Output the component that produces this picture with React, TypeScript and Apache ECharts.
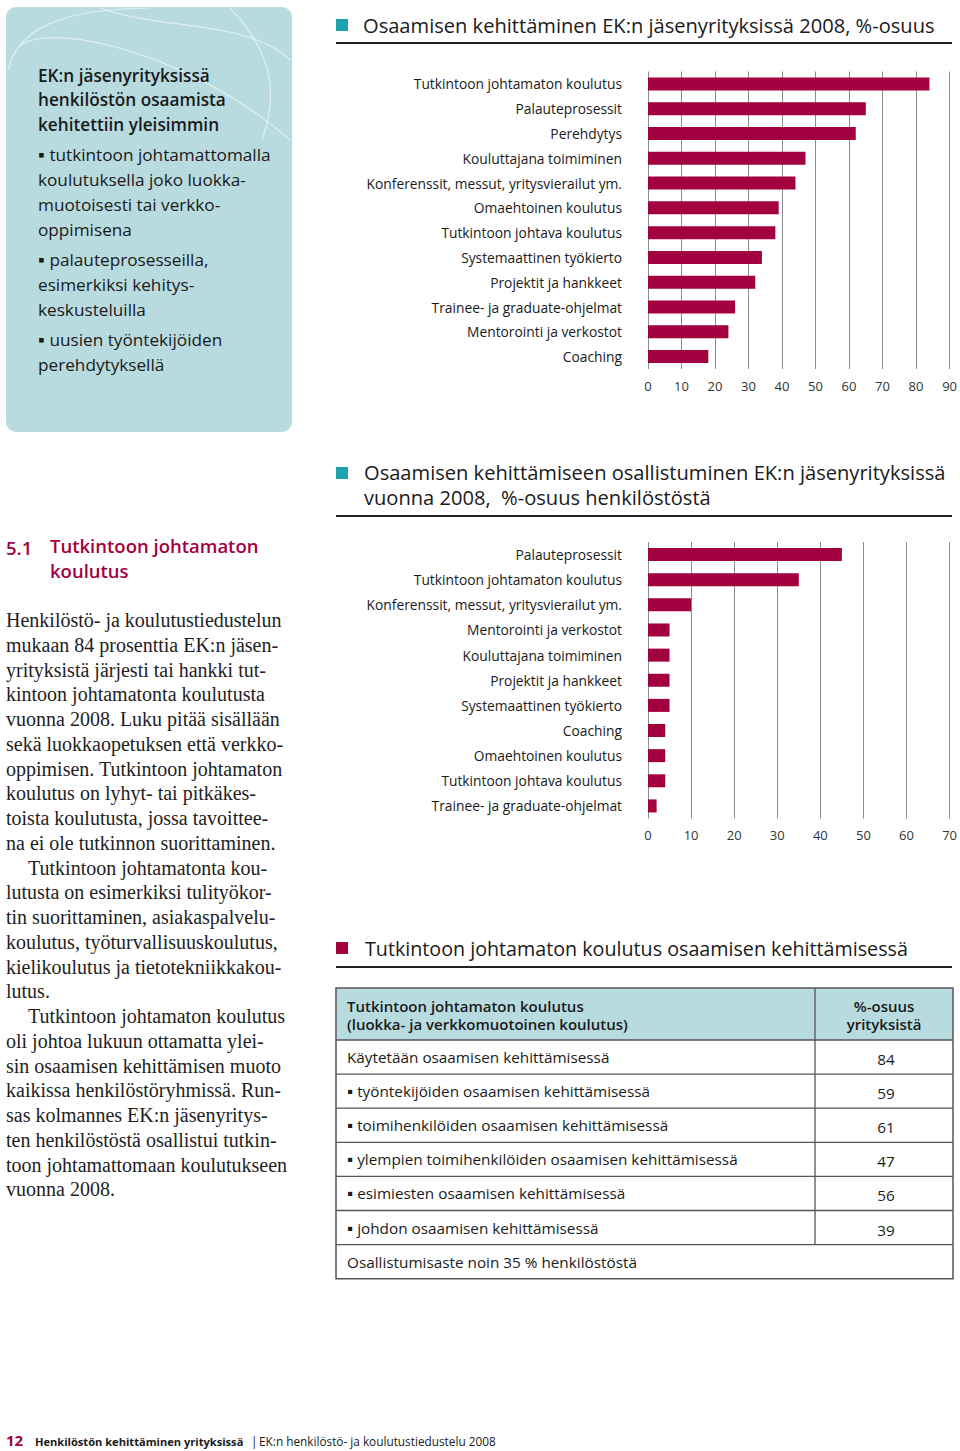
import React, { useEffect, useRef } from 'react';
import * as echarts from 'echarts';

const SANS = '"Open Sans", Lato, "Noto Sans", sans-serif';
const SERIF = '"Liberation Serif", "DejaVu Serif", serif';
const CRIMSON = '#a3003f';
const TEAL = '#1ea2ae';
const BOX_BG = '#b8dbe0';
const DARK = '#1a1a1a';

// Chart 1: Osaamisen kehittäminen EK:n jäsenyrityksissä 2008, %-osuus
const chart1Categories = [
  'Tutkintoon johtamaton koulutus',
  'Palauteprosessit',
  'Perehdytys',
  'Kouluttajana toimiminen',
  'Konferenssit, messut, yritysvierailut ym.',
  'Omaehtoinen koulutus',
  'Tutkintoon johtava koulutus',
  'Systemaattinen työkierto',
  'Projektit ja hankkeet',
  'Trainee- ja graduate-ohjelmat',
  'Mentorointi ja verkostot',
  'Coaching',
];
const chart1Values = [84, 65, 62, 47, 44, 39, 38, 34, 32, 26, 24, 18];
const chart1Max = 90;

// Chart 2: Osaamisen kehittämiseen osallistuminen, %-osuus henkilöstöstä
const chart2Categories = [
  'Palauteprosessit',
  'Tutkintoon johtamaton koulutus',
  'Konferenssit, messut, yritysvierailut ym.',
  'Mentorointi ja verkostot',
  'Kouluttajana toimiminen',
  'Projektit ja hankkeet',
  'Systemaattinen työkierto',
  'Coaching',
  'Omaehtoinen koulutus',
  'Tutkintoon johtava koulutus',
  'Trainee- ja graduate-ohjelmat',
];
const chart2Values = [45, 35, 10, 5, 5, 5, 5, 4, 4, 4, 2];
const chart2Max = 70;
const tickInterval = 10;

// Table
const tableHeaderLeft = ['Tutkintoon johtamaton koulutus', '(luokka- ja verkkomuotoinen koulutus)'];
const tableHeaderRight = ['%-osuus', 'yrityksistä'];
const tableLabels = [
  'Käytetään osaamisen kehittämisessä',
  '▪ työntekijöiden osaamisen kehittämisessä',
  '▪ toimihenkilöiden osaamisen kehittämisessä',
  '▪ ylempien toimihenkilöiden osaamisen kehittämisessä',
  '▪ esimiesten osaamisen kehittämisessä',
  '▪ johdon osaamisen kehittämisessä',
];
const tableValues = [84, 59, 61, 47, 56, 39];
const tableFooter = 'Osallistumisaste noin 35 % henkilöstöstä';

// Info box
const boxTitle = ['EK:n jäsenyrityksissä', 'henkilöstön osaamista', 'kehitettiin yleisimmin'];
const boxBullets = [
  ['▪ tutkintoon johtamattomalla', 'koulutuksella joko luokka-', 'muotoisesti tai verkko-', 'oppimisena'],
  ['▪ palauteprosesseilla,', 'esimerkiksi kehitys-', 'keskusteluilla'],
  ['▪ uusien työntekijöiden', 'perehdytyksellä'],
];

// Body text
const bodyLines: [string, boolean][] = [
  ['Henkilöstö- ja koulutustiedustelun', false],
  ['mukaan 84 prosenttia EK:n jäsen-', false],
  ['yrityksistä järjesti tai hankki tut-', false],
  ['kintoon johtamatonta koulutusta', false],
  ['vuonna 2008. Luku pitää sisällään', false],
  ['sekä luokkaopetuksen että verkko-', false],
  ['oppimisen. Tutkintoon johtamaton', false],
  ['koulutus on lyhyt- tai pitkäkes-', false],
  ['toista koulutusta, jossa tavoittee-', false],
  ['na ei ole tutkinnon suorittaminen.', false],
  ['Tutkintoon johtamatonta kou-', true],
  ['lutusta on esimerkiksi tulityökor-', false],
  ['tin suorittaminen, asiakaspalvelu-', false],
  ['koulutus, työturvallisuuskoulutus,', false],
  ['kielikoulutus ja tietotekniikkakou-', false],
  ['lutus.', false],
  ['Tutkintoon johtamaton koulutus', true],
  ['oli johtoa lukuun ottamatta ylei-', false],
  ['sin osaamisen kehittämisen muoto', false],
  ['kaikissa henkilöstöryhmissä. Run-', false],
  ['sas kolmannes EK:n jäsenyritys-', false],
  ['ten henkilöstöstä osallistui tutkin-', false],
  ['toon johtamattomaan koulutukseen', false],
  ['vuonna 2008.', false],
];

function txt(text: string, x: number, y: number, font: string, fill = DARK, align = 'left', extra: any = {}): any {
  return {
    type: 'text',
    silent: true,
    style: {
      text,
      x,
      y,
      font,
      fill,
      textAlign: align,
      align,
      textVerticalAlign: 'middle',
      verticalAlign: 'middle',
      ...extra,
    },
  };
}

function hline(x1: number, x2: number, y: number, w = 1, color = '#444'): any {
  return { type: 'line', silent: true, shape: { x1, y1: y, x2, y2: y }, style: { stroke: color, lineWidth: w } };
}
function vline(x: number, y1: number, y2: number, w = 1, color = '#444'): any {
  return { type: 'line', silent: true, shape: { x1: x, y1, x2: x, y2 }, style: { stroke: color, lineWidth: w } };
}

function buildGraphics(): any[] {
  const g: any[] = [];
  // Info box
  g.push({ type: 'rect', silent: true, shape: { x: 6, y: 7, width: 286, height: 425, r: 10 }, style: { fill: BOX_BG } });
  const curveStyle = { stroke: 'rgba(255,255,255,0.55)', lineWidth: 1.2, fill: 'none' };
  g.push({ type: 'bezierCurve', silent: true, shape: { x1: 8, y1: 70, cpx1: 20, cpy1: 20, cpx2: 80, cpy2: 9, x2: 150, y2: 8 }, style: curveStyle });
  g.push({ type: 'bezierCurve', silent: true, shape: { x1: 20, y1: 45, cpx1: 60, cpy1: 20, cpx2: 200, cpy2: 60, x2: 290, y2: 140 }, style: curveStyle });
  g.push({ type: 'bezierCurve', silent: true, shape: { x1: 230, y1: 8, cpx1: 270, cpy1: 50, cpx2: 280, cpy2: 90, x2: 262, y2: 140 }, style: curveStyle });
  g.push({ type: 'bezierCurve', silent: true, shape: { x1: 100, y1: 8, cpx1: 160, cpy1: 30, cpx2: 250, cpy2: 20, x2: 290, y2: 60 }, style: curveStyle });

  const boldBox = '600 17.2px ' + SANS;
  const regBox = '17.2px ' + SANS;
  boxTitle.forEach((l, i) => g.push(txt(l, 38, 75 + i * 24.6, boldBox)));
  let y = 154;
  boxBullets.forEach((lines) => {
    lines.forEach((l) => {
      g.push(txt(l, 38, y, regBox));
      y += 25;
    });
    y += 5;
  });

  const headFontBig = '20.1px ' + SANS;
  // Heading 1
  g.push({ type: 'rect', silent: true, shape: { x: 336, y: 19, width: 12, height: 12 }, style: { fill: TEAL } });
  g.push(txt('Osaamisen kehittäminen EK:n jäsenyrityksissä 2008, %-osuus', 363, 25, headFontBig));
  g.push(hline(336, 952, 43, 2, '#222'));

  // Heading 2 (two lines in one text)
  g.push({ type: 'rect', silent: true, shape: { x: 336, y: 467, width: 12, height: 12 }, style: { fill: TEAL } });
  g.push(
    txt(
      'Osaamisen kehittämiseen osallistuminen EK:n jäsenyrityksissä\nvuonna 2008,  %-osuus henkilöstöstä',
      364,
      485,
      headFontBig,
      DARK,
      'left',
      { lineHeight: 24.5 }
    )
  );
  g.push(hline(336, 952, 516, 2, '#222'));

  // Heading 3
  g.push({ type: 'rect', silent: true, shape: { x: 336, y: 942, width: 12, height: 12 }, style: { fill: CRIMSON } });
  g.push(txt('Tutkintoon johtamaton koulutus osaamisen kehittämisessä', 365, 948, '19.7px ' + SANS));
  g.push(hline(336, 952, 967, 2, '#222'));

  // Table
  const tx1 = 336, tx2 = 953, tdiv = 815;
  const top = 988, headBottom = 1040, rowH = 34.1;
  g.push({ type: 'rect', silent: true, shape: { x: tx1, y: top, width: tx2 - tx1, height: headBottom - top }, style: { fill: BOX_BG } });
  const headFont = '600 15px ' + SANS;
  g.push(txt(tableHeaderLeft.join('\n'), 347, 1015, headFont, DARK, 'left', { lineHeight: 18 }));
  g.push(txt(tableHeaderRight.join('\n'), 884, 1015, headFont, DARK, 'center', { lineHeight: 18 }));
  const rowFont = '15.3px ' + SANS;
  tableLabels.forEach((l, i) => {
    const cy = headBottom + rowH * i + rowH / 2;
    g.push(txt(l, 347, cy, rowFont));
    g.push(txt(String(tableValues[i]), 886, cy + 2, rowFont, DARK, 'center'));
  });
  const lastRowTop = headBottom + rowH * tableLabels.length;
  g.push(txt(tableFooter, 347, lastRowTop + rowH / 2, rowFont));
  const tableBottom = lastRowTop + rowH;
  for (let i = 0; i <= tableLabels.length; i++) {
    g.push(hline(tx1, tx2, headBottom + rowH * i, 1.3, '#555'));
  }
  g.push(vline(tdiv, top, lastRowTop, 1.3, '#555'));
  g.push({ type: 'rect', silent: true, shape: { x: tx1, y: top, width: tx2 - tx1, height: tableBottom - top }, style: { fill: 'none', stroke: '#555', lineWidth: 1.5 } });

  // Section heading left
  const secFont = '600 18.5px ' + SANS;
  g.push(txt('5.1', 6, 547, secFont, CRIMSON));
  g.push(txt('Tutkintoon johtamaton\nkoulutus', 50, 557.5, secFont, CRIMSON, 'left', { lineHeight: 25 }));

  // Body text
  const bodyFont = '20px ' + SERIF;
  bodyLines.forEach(([l, indent], i) => {
    g.push(txt(l, indent ? 28 : 6, 620 + i * 24.75, bodyFont, '#1e1e1e'));
  });

  // Footer
  g.push(txt('12', 6, 1440, 'bold 15px ' + SANS, CRIMSON));
  g.push(txt('Henkilöstön kehittäminen yrityksissä', 35, 1441, 'bold 11.1px ' + SANS));
  g.push(txt('|', 251, 1441, '11.8px ' + SANS));
  g.push(txt('EK:n henkilöstö- ja koulutustiedustelu 2008', 259, 1441, '11.8px ' + SANS));
  return g;
}

function valueAxis(gridIndex: number, max: number): any {
  return {
    type: 'value',
    gridIndex,
    min: 0,
    max,
    interval: tickInterval,
    axisLine: { show: false },
    axisTick: { show: false },
    splitLine: { show: true, lineStyle: { color: '#8c8c8c', width: 1 } },
    axisLabel: { color: '#333', fontSize: 13, fontFamily: SANS, margin: 10 },
  };
}

function catAxis(gridIndex: number, data: string[]): any {
  return {
    type: 'category',
    gridIndex,
    data,
    inverse: true,
    axisLine: { show: false },
    axisTick: { show: false },
    axisLabel: { color: DARK, fontSize: 13.8, fontFamily: SANS, margin: 26 },
  };
}

export default function App() {
  const ref = useRef<HTMLDivElement>(null);
  useEffect(() => {
    document.body.style.margin = '0';
    const chart = echarts.init(ref.current!, null, { renderer: 'svg' });
    chart.setOption({
      animation: false,
      backgroundColor: '#ffffff',
      grid: [
        { left: 648, top: 71.5, width: 304, height: 297.5 },
        { left: 648, top: 542, width: 304, height: 276.5 },
      ],
      xAxis: [valueAxis(0, chart1Max), valueAxis(1, chart2Max)],
      yAxis: [catAxis(0, chart1Categories), catAxis(1, chart2Categories)],
      series: [
        { type: 'bar', xAxisIndex: 0, yAxisIndex: 0, data: chart1Values, barWidth: 13, itemStyle: { color: CRIMSON }, silent: true },
        { type: 'bar', xAxisIndex: 1, yAxisIndex: 1, data: chart2Values, barWidth: 13, itemStyle: { color: CRIMSON }, silent: true },
      ],
      graphic: buildGraphics(),
    });
    return () => chart.dispose();
  }, []);
  return (
    <div
      ref={ref}
      style={{ position: 'absolute', left: 0, top: 0, width: 960, height: 1451, background: '#fff' }}
    />
  );
}
